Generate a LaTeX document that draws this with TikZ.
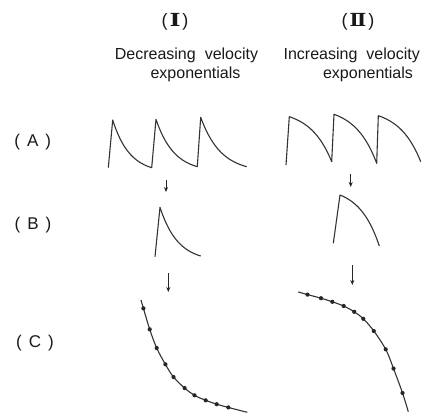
\documentclass[tikz,border=0pt]{standalone}
\usepackage{fontspec}
\usepackage{graphicx}
\setmainfont{Liberation Sans}
\newfontfamily\rmn{DejaVu Serif}
\usetikzlibrary{arrows.meta}
\pgfmathdeclarefunction{decf}{1}{\pgfmathparse{(1-exp(-2.3*#1))/(1-exp(-2.3))}}
\pgfmathdeclarefunction{incf}{1}{\pgfmathparse{(exp(2*#1)-1)/(exp(2)-1)}}
\begin{document}
\begin{tikzpicture}[x=1pt,y=-1pt,
  wave/.style={line width=1.1pt, draw=black!80, line join=round},
  arr/.style={line width=1pt, draw=black!85, -{Stealth[length=5pt,width=4pt]}},
  dotc/.style={fill=black!85},
  hdr/.style={font=\fontsize{18}{18}\selectfont, inner sep=0pt, text=black!90},
  txt/.style={font=\fontsize{16}{16}\selectfont, inner sep=0pt, anchor=base, text=black!90},
  lbl/.style={font=\fontsize{17}{17}\selectfont, inner sep=0pt, text=black!90}]
\useasboundingbox (0,0) rectangle (435,416);
% headers
\node[hdr] (h1) at (175,22) {(\hspace{2pt}{\rmn\bfseries\scalebox{1.3}[1]{Ⅰ}}\hspace{2pt})};
\node[hdr] (h2) at (358,22) {(\hspace{2pt}{\rmn\bfseries\scalebox{1.1}[1]{Ⅱ}}\hspace{2pt})};
\node[txt] (t1a) at (186.5,59.5) {Decreasing\hspace{9pt}velocity};
\node[txt] (t1b) at (195.5,78) {exponentials};
\node[txt] (t2a) at (351.7,59.5) {Increasing\hspace{9pt}velocity};
\node[txt] (t2b) at (368,78) {exponentials};
% row labels
\node[lbl] (la) at (32.7,141.7) {(\hspace{7pt}A\hspace{7pt})};
\node[lbl] (lb) at (33,225) {(\hspace{7pt}B\hspace{7pt})};
\node[lbl] (lc) at (35,343) {(\hspace{7pt}C\hspace{7pt})};
% row A
\draw[wave] (108.3,167.7)
  -- plot[domain=0:1,samples=40,variable=\t] ({112.7+39*\t},{120+47.7*decf(\t)})
  -- plot[domain=0:1,samples=40,variable=\t] ({156+41.3*\t},{119.3+47.4*decf(\t)})
  -- plot[domain=0:1,samples=40,variable=\t] ({200.7+46*\t},{117.3+49.4*decf(\t)});
\draw[wave] (286,165)
  -- plot[domain=0:1,samples=40,variable=\t] ({289.3+42.4*\t},{116.7+45*incf(\t)})
  -- plot[domain=0:1,samples=40,variable=\t] ({334+42.7*\t},{114.3+49*incf(\t)})
  -- plot[domain=0:1,samples=40,variable=\t] ({378.3+42.4*\t},{115.7+46*incf(\t)});
% row B
\draw[wave] (155,256.7)
  -- plot[domain=0:1,samples=40,variable=\t] ({160+40.7*\t},{207.3+48.7*decf(\t)});
\draw[wave] (333.3,243.3)
  -- plot[domain=0:1,samples=40,variable=\t] ({340+39.3*\t},{195+51*incf(\t)});
% arrows
\coordinate (aL1) at (166,180); \coordinate (aL2) at (166,192);
\coordinate (aR1) at (350.7,174); \coordinate (aR2) at (350.7,187);
\coordinate (bL1) at (168.3,273); \coordinate (bL2) at (168.3,292);
\coordinate (bR1) at (352.3,265); \coordinate (bR2) at (352.3,285);
\draw[arr] (aL1) -- (aL2);
\draw[arr] (aR1) -- (aR2);
\draw[arr] (bL1) -- (bL2);
\draw[arr] (bR1) -- (bR2);
% row C
\draw[wave] plot[smooth,tension=0.6] coordinates {(141,300) (143.4,308.3) (149.7,329.3) (156.7,348) (165.4,364.3) (173.5,377) (184.6,388) (194.5,395.3) (205.7,400.3) (216.7,404.2) (228.3,407.4) (247.3,412.3)};
\foreach \p in {(143.4,308.3),(149.7,329.3),(156.7,348),(165.4,364.3),(173.5,377),(184.6,388),(194.5,395.3),(205.7,400.3),(216.7,404.2),(228.3,407.4)}
  \fill[dotc] \p circle[radius=2.1pt];
\draw[wave] plot[smooth,tension=0.6] coordinates {(298.3,292) (307.5,294.6) (321,298.2) (332.3,301.8) (343.7,306) (354.2,311.8) (363.3,318.8) (373.8,331) (385.7,349.3) (393.5,368.5) (402.5,393) (408.3,411.7)};
\foreach \p in {(307.5,294.6),(321,298.2),(332.3,301.8),(343.7,306),(354.2,311.8),(363.3,318.8),(373.8,331),(385.7,349.3),(393.5,368.5),(402.5,393)}
  \fill[dotc] \p circle[radius=2.1pt];
\end{tikzpicture}
\end{document}
